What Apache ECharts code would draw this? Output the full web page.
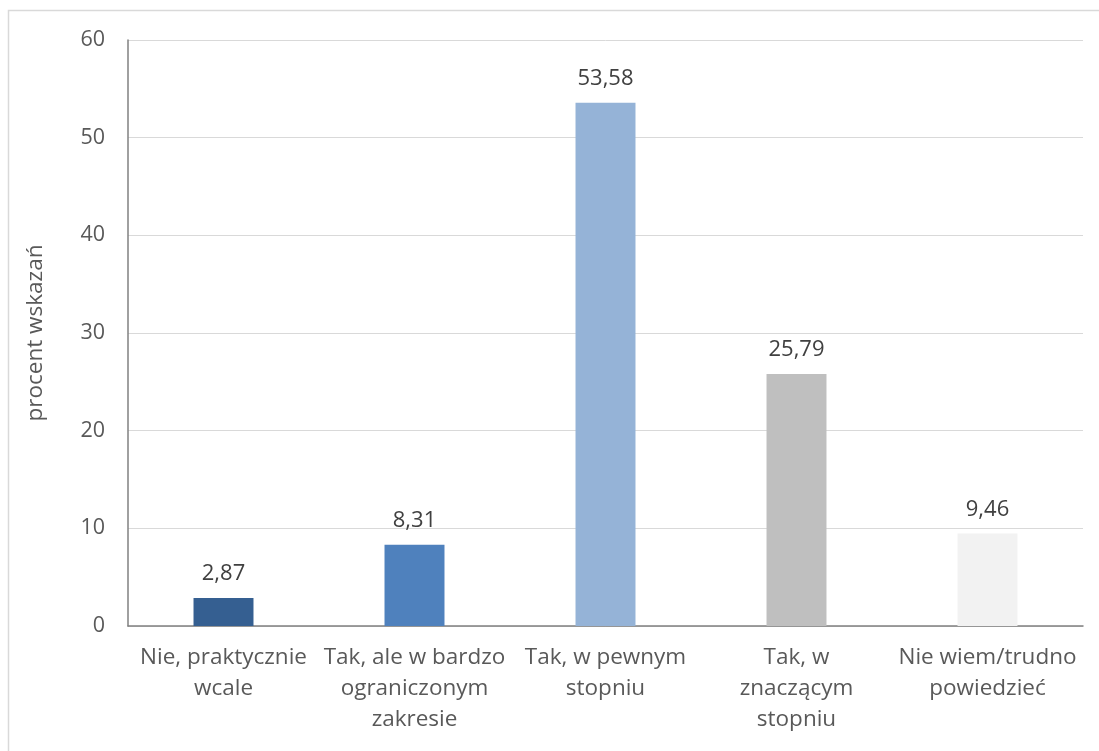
<!DOCTYPE html>
<html><head><meta charset="utf-8">
<script src="https://cdn.jsdelivr.net/npm/echarts@6/dist/echarts.min.js"></script>
<style>html,body{margin:0;padding:0;background:#fff}#c{width:1099px;height:751px}</style>
</head><body><div id="c"></div>
<script>
const categories = ["Nie, praktycznie\nwcale", "Tak, ale w bardzo\nograniczonym\nzakresie", "Tak, w pewnym\nstopniu", "Tak, w\nznaczącym\nstopniu", "Nie wiem/trudno\npowiedzieć"];
const values = [2.87, 8.31, 53.58, 25.79, 9.46];
const barColors = ["#355f91", "#4f81bd", "#95b3d7", "#bfbfbf", "#f2f2f2"];
const yTicks = [0, 10, 20, 30, 40, 50, 60];
const yName = "procent wskazań";

const font = "'Open Sans', 'Noto Sans', sans-serif";
const chart = echarts.init(document.getElementById('c'), null, {renderer: 'canvas'});
chart.setOption({
  animation: false,
  backgroundColor: '#fff',
  graphic: [{type: 'rect', shape: {x: 8.5, y: 10.5, width: 1200, height: 900}, style: {fill: 'none', stroke: '#d9d9d9', lineWidth: 1.5}, silent: true}],
  grid: {left: 128, right: 16, top: 40, bottom: 125, containLabel: false},
  xAxis: {
    type: 'category', data: categories,
    axisLine: {lineStyle: {color: '#808080', width: 1.5}},
    axisTick: {show: false},
    axisLabel: {color: '#595959', fontFamily: font, fontSize: 22.5, lineHeight: 31, margin: 16, interval: 0}
  },
  yAxis: {
    type: 'value', min: yTicks[0], max: yTicks[yTicks.length - 1], interval: 10,
    name: yName, nameLocation: 'middle', nameGap: 81, nameRotate: 90,
    nameTextStyle: {color: '#595959', fontFamily: font, fontSize: 22.5},
    axisLine: {show: true, lineStyle: {color: '#808080', width: 1.5}},
    axisTick: {show: false},
    splitLine: {lineStyle: {color: '#d9d9d9', width: 1}},
    axisLabel: {color: '#595959', fontFamily: font, fontSize: 21.5, margin: 23}
  },
  series: [{
    type: 'bar', barWidth: '31.4%',
    data: values.map((v, i) => ({value: v, itemStyle: {color: barColors[i]}})),
    label: {show: true, position: 'top', distance: 13, color: '#404040', fontFamily: font, fontSize: 22,
      formatter: p => p.value.toFixed(2).replace('.', ',')}
  }]
});
</script></body></html>
